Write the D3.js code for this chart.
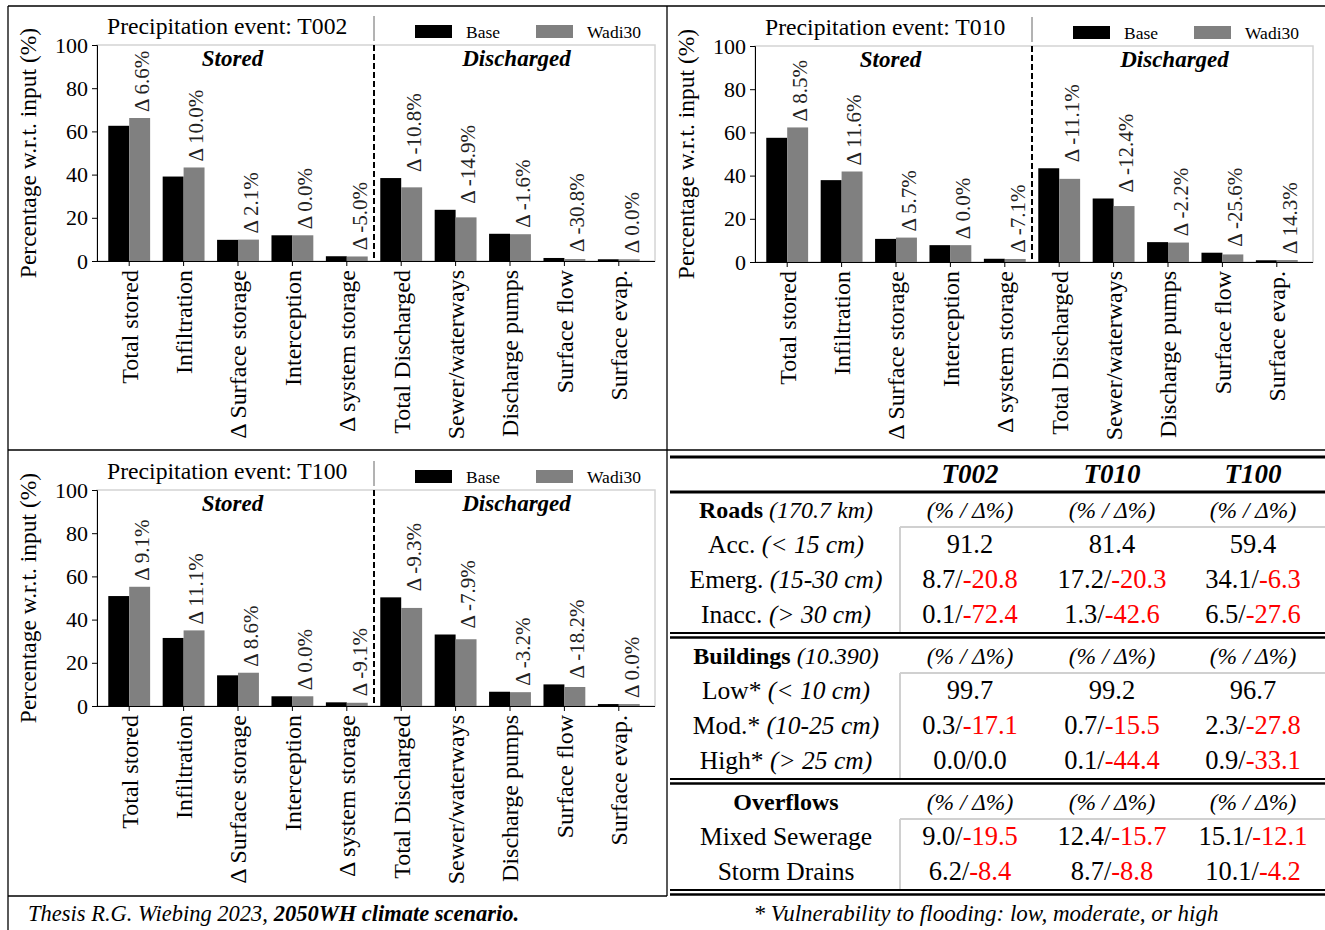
<html>
	<head>
		<meta charset="utf-8">
		<title>Wadi30 water balance</title>
		<style>
body {
	margin: 0;
	background: white;
	font-family: "Liberation Serif", "Times New Roman", serif;
}
svg text { font-family: "Liberation Serif", "Times New Roman", serif; }
.frame { stroke: #000; stroke-width: 1.3px; fill: none; }
.plotbox { fill: none; stroke: #d4d4d4; stroke-width: 1.5px; }
.axis line, .axis path { stroke: #000; }
.axis text { font-size: 22px; fill: #000; }
		</style>
	</head>
	<body>
		<svg id="fig" width="1325" height="930"></svg>

<script src="https://cdn.jsdelivr.net/npm/d3@7"></script>
<script>

// ---- chart data ----
var categories = ["Total stored", "Infiltration", "\u0394 Surface storage", "Interception", "\u0394 system storage",
	"Total Discharged", "Sewer/waterways", "Discharge pumps", "Surface flow", "Surface evap."];
var seriesNames = ["Base", "Wadi30"];
var groupNames = ["Stored", "Discharged"];
var yTicks = [0, 20, 40, 60, 80, 100];

var base002 = [62.6, 39.1, 9.8, 11.9, 2.2, 38.4, 23.7, 12.6, 1.4, 0.8];
var wadi002 = [66.2, 43.3, 9.9, 11.9, 2.1, 34.1, 20.2, 12.4, 0.9, 0.8];
var delta002 = [6.6, 10.0, 2.1, 0.0, -5.0, -10.8, -14.9, -1.6, -30.8, 0.0];

var base010 = [57.5, 37.9, 10.7, 7.8, 1.5, 43.4, 29.4, 9.2, 4.3, 0.8];
var wadi010 = [62.3, 41.9, 11.3, 7.8, 1.4, 38.5, 25.9, 9.0, 3.5, 0.9];
var delta010 = [8.5, 11.6, 5.7, 0.0, -7.1, -11.1, -12.4, -2.2, -25.6, 14.3];

var base100 = [50.9, 31.5, 14.2, 4.5, 1.7, 50.3, 33.1, 6.6, 10.0, 0.9];
var wadi100 = [55.2, 35.0, 15.4, 4.5, 1.5, 45.4, 30.9, 6.4, 8.8, 0.9];
var delta100 = [9.1, 11.1, 8.6, 0.0, -9.1, -9.3, -7.9, -3.2, -18.2, 0.0];

// ---- table data ----
var tableEvents = ["T002", "T010", "T100"];
var roadLabels = ["Acc.", "Emerg.", "Inacc."];
var roadRanges = ["(< 15 cm)", "(15-30 cm)", "(> 30 cm)"];
var roadPct = [[91.2, 81.4, 59.4], [8.7, 17.2, 34.1], [0.1, 1.3, 6.5]];
var roadDelta = [[null, null, null], [-20.8, -20.3, -6.3], [-72.4, -42.6, -27.6]];
var buildingLabels = ["Low*", "Mod.*", "High*"];
var buildingRanges = ["(< 10 cm)", "(10-25 cm)", "(> 25 cm)"];
var buildingPct = [[99.7, 99.2, 96.7], [0.3, 0.7, 2.3], [0.0, 0.1, 0.9]];
var buildingDelta = [[null, null, null], [-17.1, -15.5, -27.8], [0.0, -44.4, -33.1]];
var overflowLabels = ["Mixed Sewerage", "Storm Drains"];
var overflowRanges = ["", ""];
var overflowPct = [[9.0, 12.4, 15.1], [6.2, 8.7, 10.1]];
var overflowDelta = [[-19.5, -15.7, -12.1], [-8.4, -8.8, -4.2]];

var svg = d3.select("#fig");
var colors = {Base: "#000000", Wadi30: "#808080"};

// panel frame lines
var frameLines = [
	[8, 6, 1325, 6], [8, 6, 8, 930], [667, 6, 667, 896], [8, 450, 1325, 450], [8, 896, 667, 896]
];
svg.selectAll("line.frame").data(frameLines).enter().append("line")
	.attr("class", "frame")
	.attr("x1", function(d) { return d[0]; }).attr("y1", function(d) { return d[1]; })
	.attr("x2", function(d) { return d[2]; }).attr("y2", function(d) { return d[3]; });

function drawChart(dx, dy, eventName, base, wadi, delta) {
	var left = 97, right = 655, top = 45, bottom = 261;
	var g = svg.append("g").attr("transform", "translate(" + dx + "," + dy + ")");

	var x = d3.scaleBand().domain(categories).range([102, 646]);
	var x1 = d3.scaleBand().domain(seriesNames).range([0, x.bandwidth()]).paddingOuter(0.3);
	var y = d3.scaleLinear().domain([0, 100]).range([bottom, top]);
	var split = (x(categories[4]) + x.bandwidth() / 2 + x(categories[5]) + x.bandwidth() / 2) / 2;

	g.append("rect").attr("class", "plotbox")
		.attr("x", left).attr("y", top).attr("width", right - left).attr("height", bottom - top);

	var rows = categories.map(function(c, i) { return {cat: c, Base: base[i], Wadi30: wadi[i], delta: delta[i]}; });

	var grp = g.selectAll("g.cat").data(rows).enter().append("g")
		.attr("transform", function(d) { return "translate(" + x(d.cat) + ",0)"; });
	grp.selectAll("rect").data(function(d) { return seriesNames.map(function(k) { return {key: k, value: d[k]}; }); })
		.enter().append("rect")
		.attr("x", function(d) { return x1(d.key); })
		.attr("width", x1.bandwidth())
		.attr("y", function(d) { return y(d.value); })
		.attr("height", function(d) { return bottom - y(d.value); })
		.attr("fill", function(d) { return colors[d.key]; });

	grp.append("text")
		.attr("transform", function(d) {
			return "translate(" + (x1("Wadi30") + x1.bandwidth() / 2 + 2) + "," + (y(Math.max(d.Base, d.Wadi30)) - 6) + ") rotate(-90)";
		})
		.attr("dy", "0.35em")
		.style("font-size", "21px").style("fill", "#222")
		.text(function(d) { return "\u0394 " + d.delta.toFixed(1) + "%"; });

	// dashed split
	g.append("line").attr("x1", split).attr("x2", split).attr("y1", top).attr("y2", bottom)
		.attr("stroke", "#000").attr("stroke-width", 2).attr("stroke-dasharray", "6,3");
	g.append("line").attr("x1", split).attr("x2", split).attr("y1", 16).attr("y2", 41)
		.attr("stroke", "#666").attr("stroke-width", 1);

	// axes
	g.append("g").attr("class", "axis y")
		.attr("transform", "translate(" + left + ",0)")
		.call(d3.axisLeft(y).tickValues(yTicks).tickSize(5).tickPadding(4).tickFormat(d3.format("d")));
	var xa = g.append("g").attr("class", "axis x")
		.attr("transform", "translate(0," + bottom + ")")
		.call(d3.axisBottom(x).tickSize(5).tickSizeOuter(0));
	xa.select(".domain").attr("d", "M" + left + ",0.5H" + right);
	xa.selectAll(".tick text")
		.attr("transform", "rotate(-90)")
		.attr("text-anchor", "end")
		.attr("x", -9).attr("y", 0).attr("dy", "0.35em")
		.style("font-size", "24px");

	// y label
	g.append("text")
		.attr("transform", "translate(36," + ((top + bottom) / 2) + ") rotate(-90)")
		.attr("text-anchor", "middle")
		.style("font-size", "23.5px")
		.text("Percentage w.r.t. input (%)");

	// title & legend
	g.append("text").attr("x", 107).attr("y", 34).style("font-size", "23.7px")
		.text("Precipitation event: " + eventName);
	var leg = g.selectAll("g.leg").data(seriesNames).enter().append("g")
		.attr("transform", function(d, i) { return "translate(" + (415 + i * 121) + ",0)"; });
	leg.append("rect").attr("y", 25).attr("width", 37).attr("height", 13)
		.attr("fill", function(d) { return colors[d]; });
	leg.append("text").attr("x", 51).attr("y", 38).style("font-size", "17.5px").text(function(d) { return d; });

	// group labels
	g.selectAll("text.grp").data(groupNames).enter().append("text")
		.attr("x", function(d, i) { return i === 0 ? (left + split) / 2 - 3 : (split + right) / 2 + 2; })
		.attr("y", 66)
		.attr("text-anchor", "middle")
		.style("font-size", "23px").style("font-weight", "bold").style("font-style", "italic")
		.text(function(d) { return d; });
}

drawChart(0, 0, "T002", base002, wadi002, delta002);
drawChart(658, 1, "T010", base010, wadi010, delta010);
drawChart(0, 445, "T100", base100, wadi100, delta100);

// ---- table ----
var colX = d3.scaleOrdinal().domain(["label"].concat(tableEvents)).range([786, 970, 1112, 1253]);
var tbl = svg.append("g");

function hline(y, x0, w, col) {
	tbl.append("line").attr("x1", x0).attr("x2", 1325).attr("y1", y).attr("y2", y)
		.attr("stroke", col || "#000").attr("stroke-width", w);
}

hline(457, 670, 3);
hline(492, 670, 3);

tbl.selectAll("text.hdr").data(tableEvents).enter().append("text")
	.attr("x", function(d) { return colX(d); }).attr("y", 483)
	.attr("text-anchor", "middle")
	.style("font-size", "27px").style("font-weight", "bold").style("font-style", "italic")
	.text(function(d) { return d; });

var sections = [
	{name: "Roads", sub: "(170.7 km)", y: 510, labels: roadLabels, ranges: roadRanges, pct: roadPct, delta: roadDelta},
	{name: "Buildings", sub: "(10.390)", y: 656, labels: buildingLabels, ranges: buildingRanges, pct: buildingPct, delta: buildingDelta},
	{name: "Overflows", sub: "", y: 802, labels: overflowLabels, ranges: overflowRanges, pct: overflowPct, delta: overflowDelta}
];
var rowStep = 35;

sections.forEach(function(s, si) {
	var t = tbl.append("text").attr("x", colX("label")).attr("y", s.y + 8).attr("text-anchor", "middle")
		.style("font-size", "24px");
	t.append("tspan").style("font-weight", "bold").text(s.name);
	if (s.sub) t.append("tspan").style("font-style", "italic").text(" " + s.sub);

	tbl.selectAll("text.unit" + si).data(tableEvents).enter().append("text")
		.attr("x", function(d) { return colX(d); }).attr("y", s.y + 8)
		.attr("text-anchor", "middle").style("font-size", "23.5px").style("font-style", "italic")
		.text("(% / \u0394%)");

	// light grey cell frame
	var gy = s.y + 17;
	tbl.append("line").attr("x1", 900).attr("x2", 1325).attr("y1", gy).attr("y2", gy)
		.attr("stroke", "#d0d0d0").attr("stroke-width", 2);
	tbl.append("line").attr("x1", 900).attr("x2", 900).attr("y1", gy).attr("y2", gy + s.labels.length * rowStep + 1)
		.attr("stroke", "#d0d0d0").attr("stroke-width", 2);

	s.labels.forEach(function(lab, ri) {
		var ry = s.y + (ri + 1) * rowStep + 8;
		var lt = tbl.append("text").attr("x", colX("label")).attr("y", ry).attr("text-anchor", "middle")
			.style("font-size", "25.5px");
		lt.append("tspan").text(lab);
		if (s.ranges[ri]) lt.append("tspan").style("font-style", "italic").text(" " + s.ranges[ri]);

		tableEvents.forEach(function(ev, ci) {
			var p = s.pct[ri][ci], dl = s.delta[ri][ci];
			var ct = tbl.append("text").attr("x", colX(ev)).attr("y", ry).attr("text-anchor", "middle")
				.style("font-size", "26.5px");
			ct.append("tspan").text(p.toFixed(1) + (dl === null ? "" : "/"));
			if (dl !== null) ct.append("tspan").attr("fill", dl < 0 ? "#ff0000" : "#000").text(dl.toFixed(1));
		});
	});

	var ly = s.y + s.labels.length * rowStep;
	hline(ly + 18, 670, 2);
	hline(ly + 22.5, 670, 2.5);
});

// ---- footers ----
var f1 = svg.append("text").attr("x", 28).attr("y", 921).style("font-size", "22.5px").style("font-style", "italic");
f1.append("tspan").text("Thesis R.G. Wiebing 2023, ");
f1.append("tspan").style("font-weight", "bold").text("2050WH climate scenario.");

svg.append("text").attr("x", 986).attr("y", 921).attr("text-anchor", "middle")
	.style("font-size", "23px").style("font-style", "italic")
	.text("* Vulnerability to flooding: low, moderate, or high");

</script>
	</body>
</html>
